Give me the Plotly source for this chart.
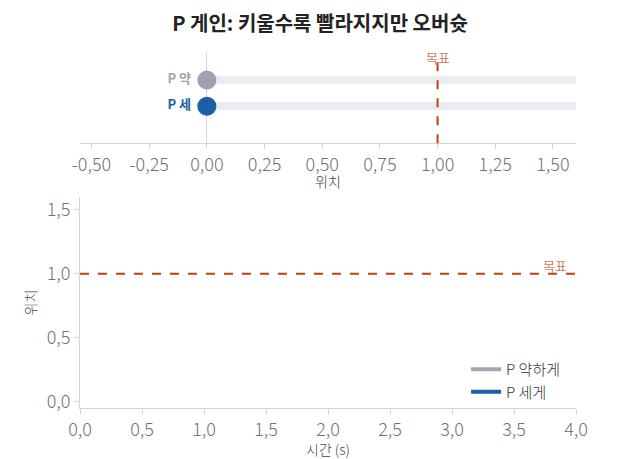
import plotly.graph_objects as go
from plotly.subplots import make_subplots

# data
labels = ["P 약", "P 세"]
label_colors = ["#9ca3af", "#1c5fa8"]
current_pos = [0.0, 0.0]
track_len = [1.6, 1.6]
target = 1.0
series_names = ["P 약하게", "P 세게"]
series_colors = ["#a3a8b0", "#1c5fa8"]
time_weak = [0.0]
pos_weak = [0.0]
time_strong = [0.0]
pos_strong = [0.0]
top_tick_vals = [-0.5, -0.25, 0.0, 0.25, 0.5, 0.75, 1.0, 1.25, 1.5]
top_tick_text = ["-0,50", "-0,25", "0,00", "0,25", "0,50", "0,75", "1,00", "1,25", "1,50"]

FONT = "Noto Sans CJK KR"
LIGHT = "Noto Sans CJK KR Light, Noto Sans CJK KR"
TICK = "#6b7280"
AXIS = "#d1d5db"
ORANGE = "#c2410c"

fig = make_subplots(rows=2, cols=1, row_heights=[0.3, 0.7], vertical_spacing=0.1)

fig.add_trace(go.Bar(x=track_len, y=labels, orientation="h", base=0, width=0.32,
                     marker=dict(color="#e9edf1", line=dict(width=0)),
                     showlegend=False, hoverinfo="skip"), row=1, col=1)
fig.add_trace(go.Scatter(x=current_pos, y=labels, mode="markers+text",
                         marker=dict(size=19, color=label_colors),
                         text=[f"<b>{l}</b>&nbsp;" for l in labels], textposition="middle left",
                         textfont=dict(color=label_colors, size=13, family=FONT),
                         showlegend=False), row=1, col=1)

fig.add_trace(go.Scatter(x=time_weak, y=pos_weak, mode="lines", name=series_names[0],
                         line=dict(color=series_colors[0], width=4)), row=2, col=1)
fig.add_trace(go.Scatter(x=time_strong, y=pos_strong, mode="lines", name=series_names[1],
                         line=dict(color=series_colors[1], width=4)), row=2, col=1)

fig.add_shape(type="line", x0=target, x1=target, xref="x", y0=0, y1=0.9, yref="y domain",
              line=dict(color=ORANGE, width=2, dash="dash"))
fig.add_annotation(x=target, xref="x", y=0.955, yref="y domain", text="목표", showarrow=False,
                   yanchor="middle", font=dict(color=ORANGE, size=13, family=LIGHT))

fig.add_shape(type="line", x0=0, x1=1, xref="x2 domain", y0=target, y1=target, yref="y2",
              line=dict(color=ORANGE, width=2, dash="dash"))
fig.add_annotation(x=1, xref="x2 domain", y=target, yref="y2", text="목표", showarrow=False,
                   xanchor="right", yanchor="bottom", xshift=-7, yshift=-3,
                   font=dict(color=ORANGE, size=13, family=LIGHT))

# axis titles placed as annotations
fig.add_annotation(x=0.5, xref="paper", y=0.0, yref="y domain", yshift=-38, text="위치",
                   showarrow=False, yanchor="middle", font=dict(color="#444", size=14, family=LIGHT))
fig.add_annotation(x=0.5, xref="paper", y=0.0, yref="paper", yshift=-41, text="시간 (s)",
                   showarrow=False, yanchor="middle", font=dict(color="#444", size=14, family=LIGHT))

axis_common = dict(showline=True, linecolor=AXIS, linewidth=1, ticks="outside", tickcolor=AXIS,
                   ticklen=5, showgrid=False,
                   tickfont=dict(color=TICK, size=18, family=LIGHT))

fig.update_xaxes(range=[-0.55, 1.6], tickvals=top_tick_vals, ticktext=top_tick_text,
                 zeroline=True, zerolinecolor=AXIS, zerolinewidth=1, row=1, col=1, **axis_common)
fig.update_yaxes(range=[-1.42, 2.04], categoryorder="array", categoryarray=["P 세", "P 약"],
                 showticklabels=False, showline=False, showgrid=False, zeroline=False,
                 ticks="", row=1, col=1)
fig.update_xaxes(range=[0, 4], dtick=0.5, tickformat=".1f", zeroline=False, row=2, col=1,
                 **axis_common)
fig.update_yaxes(range=[-0.05, 1.6], dtick=0.5, tickformat=".1f", title_text="위치",
                 title_font=dict(color="#444", size=14, family=LIGHT),
                 title_standoff=6, zeroline=False, row=2, col=1, **axis_common)

fig.update_layout(
    width=640, height=459,
    margin=dict(l=72, r=72, t=45, b=59),
    separators=",.",
    paper_bgcolor="white", plot_bgcolor="white",
    font=dict(family=FONT, color="#333"),
    title=dict(text="<b>P 게인: 키울수록 빨라지지만 오버슛</b>", x=0.4875, xanchor="center",
               y=0.965, yanchor="middle", font=dict(size=20, color="#222", family=FONT)),
    legend=dict(x=0.978, xanchor="right", y=0.0, yanchor="bottom", bgcolor="rgba(0,0,0,0)",
                font=dict(size=15, color="#333", family=LIGHT), tracegroupgap=0),
    bargap=0,
)
fig.update_yaxes(domain=[0.746, 1.0], row=1, col=1)
fig.update_yaxes(domain=[0.0, 0.594], row=2, col=1)

fig.write_html("out.html")
